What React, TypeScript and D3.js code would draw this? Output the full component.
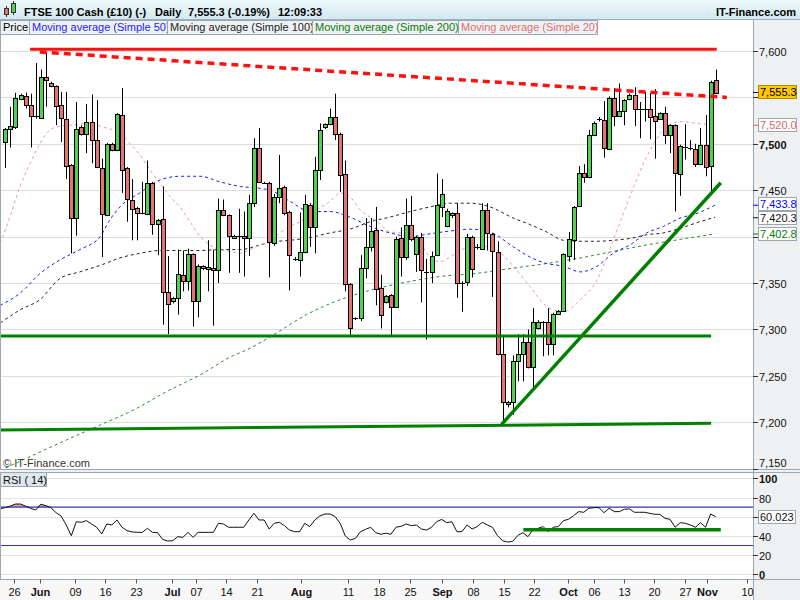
import React from 'react';
import * as d3 from 'd3';

// ---------- DATA ----------
const opens = [
  7502, 7516, 7518, 7548, 7552, 7542, 7530, 7528, 7572, 7566,
  7562, 7542, 7527, 7477, 7420, 7518, 7511, 7523, 7504, 7474,
  7423, 7500, 7493, 7531, 7474, 7439, 7431, 7425, 7424, 7458,
  7414, 7419, 7340, 7331, 7334, 7359, 7352, 7381, 7331, 7368,
  7365, 7366, 7364, 7429, 7423, 7399, 7401, 7401, 7398, 7436,
  7495, 7458, 7458, 7393, 7443, 7453, 7426, 7376, 7375, 7383,
  7434, 7410, 7472, 7518, 7521, 7529, 7511, 7467, 7349, 7312,
  7312, 7366, 7389, 7407, 7345, 7329, 7337, 7324, 7398, 7378,
  7412, 7381, 7400, 7362, 7362, 7380, 7432, 7411, 7423, 7425,
  7350, 7351, 7400, 7388, 7387, 7429, 7403, 7383, 7274, 7220,
  7222, 7266, 7274, 7286, 7259, 7301, 7308, 7308, 7284, 7317,
  7320, 7379, 7396, 7433, 7469, 7464, 7510, 7526, 7526, 7494,
  7549, 7530, 7535, 7548, 7553, 7538, 7537, 7537, 7530, 7527,
  7533, 7509, 7520, 7467, 7497, 7496, 7494, 7478, 7499, 7476,
  7569,
];
const highs = [
  7517, 7540, 7555, 7554, 7555, 7554, 7587, 7580, 7598, 7567,
  7563, 7556, 7556, 7478, 7545, 7520, 7543, 7553, 7547, 7484,
  7501, 7501, 7533, 7560, 7475, 7462, 7432, 7459, 7482, 7459,
  7419, 7454, 7379, 7335, 7386, 7385, 7387, 7382, 7370, 7369,
  7396, 7386, 7441, 7440, 7424, 7402, 7430, 7427, 7445, 7506,
  7517, 7459, 7459, 7446, 7488, 7455, 7428, 7378, 7426, 7445,
  7436, 7486, 7522, 7522, 7538, 7554, 7512, 7482, 7350, 7313,
  7380, 7420, 7420, 7432, 7359, 7337, 7338, 7400, 7410, 7441,
  7444, 7401, 7404, 7376, 7384, 7468, 7462, 7430, 7426, 7436,
  7352, 7403, 7401, 7392, 7436, 7436, 7404, 7395, 7294, 7223,
  7272, 7295, 7295, 7300, 7323, 7310, 7309, 7323, 7318, 7321,
  7382, 7405, 7433, 7476, 7478, 7515, 7524, 7529, 7546, 7551,
  7560, 7565, 7548, 7554, 7561, 7545, 7556, 7555, 7559, 7534,
  7540, 7521, 7521, 7499, 7521, 7504, 7500, 7517, 7531, 7568,
  7580,
];
const lows = [
  7474, 7496, 7516, 7547, 7538, 7496, 7527, 7527, 7540, 7561,
  7520, 7502, 7462, 7382, 7401, 7509, 7490, 7479, 7474, 7378,
  7422, 7492, 7492, 7447, 7416, 7396, 7396, 7424, 7423, 7402,
  7380, 7305, 7295, 7328, 7316, 7341, 7342, 7303, 7313, 7364,
  7341, 7304, 7350, 7422, 7361, 7398, 7361, 7357, 7379, 7432,
  7458, 7457, 7356, 7390, 7436, 7423, 7342, 7374, 7357, 7382,
  7389, 7382, 7461, 7516, 7520, 7504, 7448, 7341, 7294, 7310,
  7309, 7355, 7384, 7326, 7301, 7328, 7294, 7323, 7357, 7375,
  7395, 7362, 7329, 7289, 7350, 7379, 7421, 7410, 7420, 7334,
  7319, 7347, 7356, 7386, 7386, 7385, 7335, 7272, 7199, 7216,
  7208, 7244, 7244, 7258, 7238, 7300, 7271, 7272, 7272, 7316,
  7319, 7373, 7375, 7432, 7458, 7463, 7509, 7524, 7485, 7493,
  7519, 7529, 7520, 7547, 7519, 7506, 7524, 7505, 7484, 7526,
  7500, 7490, 7427, 7444, 7483, 7493, 7475, 7477, 7465, 7448,
  7554,
];
const closes = [
  7516, 7519, 7549, 7553, 7542, 7530, 7529, 7572, 7569, 7562,
  7541, 7528, 7476, 7420, 7516, 7511, 7523, 7504, 7475, 7424,
  7500, 7493, 7532, 7472, 7440, 7430, 7425, 7425, 7458, 7414,
  7418, 7340, 7327, 7334, 7360, 7352, 7381, 7331, 7368, 7366,
  7367, 7364, 7429, 7423, 7401, 7401, 7401, 7398, 7436, 7495,
  7459, 7458, 7394, 7443, 7452, 7425, 7380, 7375, 7383, 7435,
  7410, 7472, 7515, 7521, 7529, 7511, 7466, 7349, 7301, 7312,
  7366, 7389, 7406, 7344, 7315, 7336, 7324, 7397, 7378, 7412,
  7397, 7400, 7364, 7362, 7379, 7434, 7446, 7428, 7425, 7350,
  7350, 7400, 7365, 7389, 7429, 7404, 7384, 7274, 7222, 7222,
  7266, 7274, 7286, 7259, 7308, 7308, 7308, 7284, 7317, 7320,
  7381, 7397, 7432, 7469, 7464, 7510, 7522, 7527, 7495, 7549,
  7530, 7535, 7547, 7553, 7538, 7538, 7536, 7529, 7525, 7533,
  7509, 7520, 7468, 7498, 7497, 7494, 7478, 7499, 7475, 7567,
  7555,
];

// RSI(14), first value belongs to index -1 (left edge)
const rsiValues = [
  68.4,
  69.5, 71.1, 73.2, 73.2, 71, 68.7, 67, 73, 71.5, 69.4,
  64.2, 60.7, 51.4, 40.2, 54.8, 54.2, 55.9, 52.4, 49, 42,
  52.4, 51.4, 56.6, 49, 45.4, 44.1, 43.7, 43.7, 47.9, 43.7,
  43.4, 36.4, 34.7, 35, 39.2, 38.5, 43.7, 38.5, 43.7, 43.7,
  43.7, 43.7, 53.1, 52.4, 49, 49, 49, 49, 56.6, 63.5,
  56.6, 56.6, 47.2, 53.1, 54.2, 50.7, 46.1, 44.4, 44.4, 53.1,
  49.7, 56.6, 60.8, 62.8, 62.8, 60.1, 53.1, 39.9, 35.7, 37.4,
  44.4, 46.8, 49, 43.4, 41.7, 42.8, 41.7, 49, 50, 52.4,
  50.7, 51.4, 47.2, 46.1, 49, 54.8, 57.2, 53.8, 54.8, 44.4,
  44.4, 51.4, 47.2, 49.7, 54.2, 51.4, 49, 40.2, 35, 33.6,
  34.3, 40.5, 43.4, 39.2, 46.8, 47.9, 49.7, 44.4, 49, 49.7,
  55.9, 57.3, 61.1, 65.3, 64.6, 68.8, 69.4, 69.4, 64.2, 68.8,
  65.3, 65.3, 67.7, 68.1, 64.6, 64.6, 64.6, 63.5, 62.5, 62.5,
  58.3, 57.3, 49, 53.8, 53.1, 51.4, 49, 53.8, 49, 62.8,
  60.0,
];

// moving averages as [candle index, value]
const sma20: [number, number][] = [
  [-1, 7393], [0.9, 7421], [2.9, 7454], [4.9, 7479], [6.8, 7500], [8.8, 7515], [10.8, 7519],
  [12.8, 7520], [14.7, 7521], [16.7, 7523], [18.7, 7519], [20.6, 7516], [22.6, 7512], [24.6, 7500],
  [26.5, 7488], [28.5, 7472], [30.5, 7457], [32.5, 7443], [34.4, 7432], [36.4, 7416], [38.4, 7400],
  [40.3, 7391], [42.3, 7386], [44.3, 7384], [46.3, 7382], [48.2, 7386], [50.2, 7391], [52.2, 7395],
  [54.1, 7404], [56.1, 7411], [58.1, 7416], [60.1, 7423], [62, 7431], [64, 7438], [66, 7447],
  [67.9, 7443], [69.9, 7429], [71.9, 7421], [73.8, 7414], [75.8, 7405], [77.8, 7404], [79.8, 7400],
  [81.7, 7393], [83.7, 7378], [85.7, 7373], [87.6, 7378], [89.6, 7385], [91.6, 7389], [93.6, 7390],
  [96.8, 7386], [100.1, 7368], [103.4, 7346], [106.7, 7325], [110, 7319], [113.3, 7332], [116.6, 7353],
  [119.8, 7396], [123.1, 7443], [126.4, 7486], [129.7, 7515], [133, 7524], [136.3, 7522], [139.9, 7520],
];
const sma50: [number, number][] = [
  [-1, 7326], [2.9, 7339], [6.8, 7360], [10.8, 7375], [14.7, 7386], [18.7, 7400], [20.6, 7418],
  [22.6, 7432], [26.5, 7447], [30.5, 7461], [34.4, 7465], [38.4, 7465], [42.3, 7459], [46.3, 7454],
  [50.2, 7452], [52.2, 7450], [56.1, 7438], [60.1, 7427], [64, 7427], [67.9, 7421], [71.9, 7411],
  [75.8, 7404], [79.8, 7400], [83.7, 7403], [87.6, 7406], [91.6, 7408], [95.5, 7405], [100.1, 7389],
  [103.4, 7378], [106.7, 7371], [110, 7368], [113.3, 7362], [116.6, 7368], [119.8, 7382], [123.1, 7391],
  [126.4, 7404], [129.7, 7411], [133, 7420], [136.3, 7425], [139.9, 7434],
];
const sma100: [number, number][] = [
  [-1, 7307], [2.9, 7321], [6.8, 7332], [10.8, 7355], [14.7, 7362], [18.7, 7369], [22.6, 7377],
  [26.5, 7382], [30.5, 7385], [34.4, 7385], [38.4, 7385], [42.3, 7386], [46.3, 7386], [50.2, 7391],
  [52.2, 7394], [56.1, 7396], [60.1, 7399], [64, 7404], [67.9, 7408], [71.9, 7416], [75.8, 7421],
  [79.8, 7427], [83.7, 7432], [87.6, 7436], [91.6, 7436], [95.5, 7432], [100.1, 7420], [103.4, 7413],
  [106.7, 7405], [110, 7396], [113.3, 7395], [116.6, 7395], [119.8, 7396], [123.1, 7398], [126.4, 7402],
  [129.7, 7404], [133, 7409], [136.3, 7415], [139.9, 7421],
];
const sma200: [number, number][] = [
  [-1, 7148], [12.1, 7181], [18.7, 7197], [25.2, 7213], [31.8, 7233], [38.4, 7251], [45, 7272],
  [47.6, 7278], [52.8, 7294], [59.4, 7316], [66, 7332], [72.5, 7343], [79.1, 7351], [85.7, 7357],
  [92.2, 7360], [100.1, 7366], [106.7, 7371], [113.3, 7377], [119.8, 7384], [126.4, 7391],
  [133, 7397], [139.9, 7403],
];

// hand-drawn annotation lines [index, value]
const resistanceSolid: [number, number][] = [[4.9, 7602], [140.2, 7602]];
const resistanceDashed: [number, number][] = [[6.8, 7599], [142.2, 7550]];
const supportMid: [number, number][] = [[-1.1, 7293], [139.1, 7293]];
const supportLow: [number, number][] = [[-1.1, 7191.6], [139.1, 7198.8]];
const upTrend: [number, number][] = [[97.8, 7197.7], [141, 7458]];
const rsiSupport: [number, number][] = [[102.1, 46.5], [141, 46.5]];

const priceTicks = [7150, 7200, 7250, 7300, 7350, 7400, 7450, 7500, 7550, 7600];
const rsiTicks = [0, 20, 40, 60, 80, 100];
const dateTickPos = [1.7, 6.8, 13.7, 19.7, 25.8, 32.9, 37.6, 43.5, 49.6, 58.3, 67.5, 73.7, 79.8, 86.1,
  92.2, 98.3, 104.2, 110.9, 116.0, 122.0, 127.8, 134.0, 138.3, 146.2];
const dateTickLabels = ['26', 'Jun', '09', '16', '23', 'Jul', '07', '14', '21', 'Aug', '11', '18', '25', 'Sep',
  '08', '15', '22', 'Oct', '06', '13', '20', '27', 'Nov', '10'];
const monthNames = ['Jun', 'Jul', 'Aug', 'Sep', 'Oct', 'Nov'];

const lastPrice = 7555.3;
const maLast = [
  { value: 7520.0, text: '7,520.0', color: '#e06666' },
  { value: 7433.8, text: '7,433.8', color: '#0000ff' },
  { value: 7420.3, text: '7,420.3', color: '#111111' },
  { value: 7402.8, text: '7,402.8', color: '#008000' },
];
const rsiLast = 60.023;

const legendItems = [
  { text: 'Price', color: '#000', x0: 0.5, x1: 29.5 },
  { text: 'Moving average (Simple 50)', color: '#1a1aff', x0: 29.5, x1: 167.5 },
  { text: 'Moving average (Simple 100)', color: '#222', x0: 167.5, x1: 312.5 },
  { text: 'Moving average (Simple 200)', color: '#0a7a0a', x0: 312.5, x1: 458.5 },
  { text: 'Moving average (Simple 20)', color: '#e07070', x0: 458.5, x1: 597.5 },
];

const FONT = '"Liberation Sans", Arial, Helvetica, sans-serif';
const GREEN = '#4fd24f';
const RED = '#e47474';

export default function App() {
  const plotRight = 753;
  const mainTop = 19;
  const mainBottom = 469.5;
  const rsiTop = 472.5;
  const rsiBottom = 579.5;

  const x = d3.scaleLinear().domain([0, 140]).range([5.3, 715.7]);
  const y = d3.scaleLinear().domain([7150, 7600]).range([468.6, 51]);
  const yR = d3.scaleLinear().domain([0, 100]).range([574.3, 478.3]);

  const smooth = (ys: d3.ScaleLinear<number, number>) =>
    d3.line<[number, number]>().x(d => x(d[0])).y(d => ys(d[1])).curve(d3.curveMonotoneX);
  const straight = (ys: d3.ScaleLinear<number, number>) =>
    d3.line<[number, number]>().x(d => x(d[0])).y(d => ys(d[1]));

  const rsiPts: [number, number][] = rsiValues.map((v, k) => [k - 1, v]);
  const rsiLine = d3.line<[number, number]>().x(d => x(d[0])).y(d => yR(d[1]))(rsiPts) || '';
  const obArea = d3.area<[number, number]>()
    .x(d => x(d[0])).y0(yR(70)).y1(d => yR(Math.max(70, d[1])))(rsiPts) || '';

  // right-axis value labels, pushed apart from the bottom up
  const labels = maLast.map(m => ({ ...m, yy: y(m.value) })).sort((a, b) => b.yy - a.yy);
  for (let k = 1; k < labels.length; k++) {
    if (labels[k].yy > labels[k - 1].yy - 14) labels[k].yy = labels[k - 1].yy - 14;
  }
  const coveredYs = [...labels.map(l => l.yy), y(lastPrice)];
  const priceTickVisible = (t: number) => coveredYs.every(cy => Math.abs(cy - y(t)) > 8);
  const rsiTickVisible = (t: number) => Math.abs(yR(rsiLast) - yR(t)) > 8;

  const idx = d3.range(opens.length);

  return (
    <div style={{ position: 'absolute', left: 0, top: 0 }}>
      <svg width={800} height={600} style={{ display: 'block', fontFamily: FONT }}>
        <defs>
          <linearGradient id="hdr" x1="0" y1="0" x2="0" y2="1">
            <stop offset="0" stopColor="#eef8fb" />
            <stop offset="1" stopColor="#d3e9f1" />
          </linearGradient>
          <clipPath id="mainClip">
            <rect x={0} y={mainTop} width={plotRight} height={mainBottom - mainTop} />
          </clipPath>
          <clipPath id="rsiClip">
            <rect x={0} y={rsiTop} width={plotRight} height={rsiBottom - rsiTop} />
          </clipPath>
        </defs>

        {/* backgrounds */}
        <rect x={0} y={0} width={800} height={600} fill="#eef0f2" />
        <rect x={0} y={mainTop} width={plotRight} height={mainBottom - mainTop} fill="#ffffff" />
        <rect x={0} y={rsiTop} width={plotRight} height={rsiBottom - rsiTop} fill="#ffffff" />
        <rect x={0} y={rsiBottom} width={plotRight} height={600 - rsiBottom} fill="#f7f7f7" />

        {/* header */}
        <rect x={0} y={0} width={800} height={19} fill="url(#hdr)" />
        <line x1={0} x2={800} y1={19.5} y2={19.5} stroke="#9fb0bc" />
        <g>
          <line x1={6.5} x2={6.5} y1={6} y2={17} stroke="#333" />
          <rect x={4.5} y={8.5} width={4} height={6} fill={RED} stroke="#333" />
          <line x1={13.5} x2={13.5} y1={1} y2={15} stroke="#333" />
          <rect x={11.5} y={3.5} width={4} height={9} fill={GREEN} stroke="#333" />
        </g>
        <g fontWeight="bold" fontSize={11} fill="#000">
          <text x={24} y={15.5}>FTSE 100 Cash (£10) (-)</text>
          <text x={155} y={15.5}>Daily</text>
          <text x={188} y={15.5}>7,555.3 (-0.19%)</text>
          <text x={278} y={15.5}>12:09:33</text>
          <text x={796} y={15.5} textAnchor="end">IT-Finance.com</text>
        </g>

        {/* main grid */}
        {priceTicks.filter(t => t > 7150).map(t => (
          <line key={'g' + t} x1={0} x2={plotRight} y1={Math.round(y(t)) + 0.5} y2={Math.round(y(t)) + 0.5}
            stroke="#dcdcdc" />
        ))}

        <g clipPath="url(#mainClip)">
          {/* moving averages */}
          <path d={smooth(y)(sma200) || ''} fill="none" stroke="#2e8b2e" strokeWidth={1} strokeDasharray="3,3" />
          <path d={smooth(y)(sma100) || ''} fill="none" stroke="#222" strokeWidth={1} strokeDasharray="3,3" />
          <path d={smooth(y)(sma50) || ''} fill="none" stroke="#1a1aff" strokeWidth={1} strokeDasharray="3,3" />
          <path d={smooth(y)(sma20) || ''} fill="none" stroke="#ec9a9a" strokeWidth={1} strokeDasharray="3,3" />

          {/* candles */}
          {idx.map(i => {
            const c = Math.round(x(i));
            const o = opens[i];
            const cl = closes[i];
            const up = cl > o;
            const yt = Math.round(y(Math.max(o, cl)));
            const yb = Math.round(y(Math.min(o, cl)));
            const wx = c + 0.5;
            return (
              <g key={i}>
                <line x1={wx} x2={wx} y1={y(highs[i])} y2={y(lows[i])} stroke="#000" strokeWidth={1} />
                {yb - yt >= 2 ? (
                  <rect x={c - 1.5} y={yt + 0.5} width={4} height={yb - yt} fill={up ? GREEN : RED} stroke="#000" />
                ) : (
                  <line x1={c - 2} x2={c + 3} y1={yt + 0.5} y2={yt + 0.5} stroke="#000" />
                )}
              </g>
            );
          })}

          {/* annotations */}
          <path d={straight(y)(resistanceSolid) || ''} stroke="#ff1010" strokeWidth={3} fill="none" />
          <path d={straight(y)(resistanceDashed) || ''} stroke="#ff1010" strokeWidth={3.5} fill="none"
            strokeDasharray="7,5" />
          <path d={straight(y)(supportMid) || ''} stroke="#008000" strokeWidth={3} fill="none" />
          <path d={straight(y)(supportLow) || ''} stroke="#008000" strokeWidth={3} fill="none" />
          <path d={straight(y)(upTrend) || ''} stroke="#008000" strokeWidth={3.5} fill="none" />
        </g>

        <text x={3} y={467} fontSize={11} fill="#333">© IT-Finance.com</text>

        {/* legend */}
        {legendItems.map(l => (
          <g key={l.text}>
            <rect x={l.x0} y={20.5} width={l.x1 - l.x0} height={14} fill="#eef2f5" stroke="#9aa6b2" />
            <text x={l.x0 + 2.5} y={31} fontSize={11} fill={l.color}>{l.text}</text>
          </g>
        ))}

        {/* main panel borders */}
        <line x1={0.5} x2={0.5} y1={mainTop} y2={mainBottom} stroke="#9aa6b2" />
        <line x1={0} x2={800} y1={mainBottom} y2={mainBottom} stroke="#9aa6b2" />
        <line x1={plotRight + 0.5} x2={plotRight + 0.5} y1={mainTop} y2={600} stroke="#9aa6b2" />

        {/* price axis */}
        {priceTicks.map(t => {
          const yy = Math.round(y(t)) + 0.5;
          return (
            <g key={'p' + t}>
              <line x1={plotRight} x2={plotRight + 5} y1={yy} y2={yy} stroke="#333" />
              {priceTickVisible(t) && (
                <text x={759} y={Math.min(yy + 4, 467)} fontSize={11} fill="#111"
                  fontWeight={t === 7500 ? 'bold' : 'normal'}>{d3.format(',')(t)}</text>
              )}
            </g>
          );
        })}

        {/* last value labels */}
        {labels.map(l => (
          <g key={l.text}>
            <line x1={plotRight} x2={plotRight + 5} y1={y(l.value)} y2={y(l.value)} stroke={l.color} />
            <rect x={758.5} y={Math.round(l.yy) - 6.5} width={38} height={13} fill="#ffffff" stroke="#9aa6b2" />
            <text x={760} y={Math.round(l.yy) + 4} fontSize={11} fill={l.color}>{l.text}</text>
          </g>
        ))}
        <g>
          <line x1={plotRight} x2={plotRight + 5} y1={y(lastPrice)} y2={y(lastPrice)} stroke="#000" />
          <rect x={758.5} y={Math.round(y(lastPrice)) - 6.5} width={38} height={13} fill="#ffc800" stroke="#b08a00" />
          <text x={760} y={Math.round(y(lastPrice)) + 4} fontSize={11} fill="#000">7,555.3</text>
        </g>

        {/* RSI panel */}
        <line x1={0} x2={800} y1={rsiTop} y2={rsiTop} stroke="#9aa6b2" />
        {rsiTicks.map(t => (
          <line key={'rg' + t} x1={0} x2={plotRight} y1={Math.round(yR(t)) + 0.5} y2={Math.round(yR(t)) + 0.5}
            stroke="#e2e2e2" />
        ))}
        <g clipPath="url(#rsiClip)">
          <path d={obArea} fill="#d8a4a4" />
          <line x1={0} x2={plotRight} y1={yR(70)} y2={yR(70)} stroke="#3434b0" strokeWidth={1.2} />
          <line x1={0} x2={plotRight} y1={yR(30)} y2={yR(30)} stroke="#3434b0" strokeWidth={1.2} />
          <path d={rsiLine} fill="none" stroke="#111" strokeWidth={1} />
          <path d={straight(yR)(rsiSupport) || ''} stroke="#008000" strokeWidth={3.5} fill="none" />
        </g>
        <rect x={0.5} y={rsiTop} width={46} height={14} fill="#dfe8ee" stroke="#9aa6b2" />
        <text x={3} y={484} fontSize={11} fill="#111">RSI ( 14)</text>
        <line x1={0.5} x2={0.5} y1={rsiTop} y2={rsiBottom} stroke="#9aa6b2" />
        <line x1={0} x2={800} y1={rsiBottom} y2={rsiBottom} stroke="#9aa6b2" />

        {rsiTicks.map(t => {
          const yy = Math.round(yR(t)) + 0.5;
          return (
            <g key={'rt' + t}>
              <line x1={plotRight} x2={plotRight + 5} y1={yy} y2={yy} stroke="#333" />
              {rsiTickVisible(t) && (
                <text x={759} y={yy + 4} fontSize={11} fill="#111"
                  fontWeight={t === 100 || t === 0 ? 'bold' : 'normal'}>{t}</text>
              )}
            </g>
          );
        })}
        <g>
          <rect x={758.5} y={Math.round(yR(rsiLast)) - 6.5} width={37} height={13} fill="#ffffff" stroke="#9aa6b2" />
          <text x={760} y={Math.round(yR(rsiLast)) + 4} fontSize={11} fill="#111">60.023</text>
        </g>

        {/* date axis */}
        {dateTickPos.map((p, k) => {
          const xx = Math.round(x(p)) + 0.5;
          const isMonth = monthNames.includes(dateTickLabels[k]);
          return (
            <g key={'d' + k}>
              <line x1={xx} x2={xx} y1={rsiBottom} y2={rsiBottom + 4} stroke="#555" />
              <text x={xx} y={596} fontSize={11} textAnchor="middle" fill="#111"
                fontWeight={isMonth ? 'bold' : 'normal'}>{dateTickLabels[k]}</text>
            </g>
          );
        })}
      </svg>
    </div>
  );
}
